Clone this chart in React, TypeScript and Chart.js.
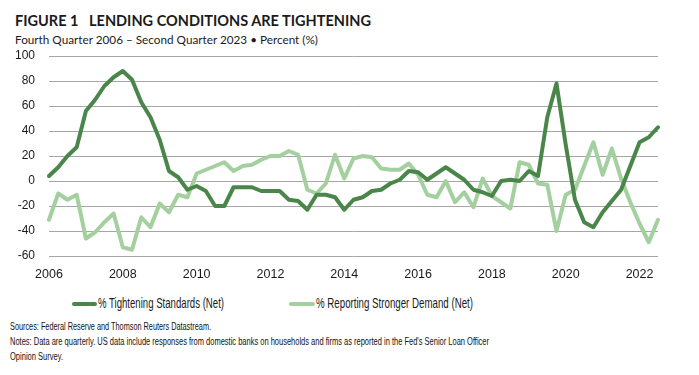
import React, { useEffect, useLayoutEffect, useRef } from "react";
import { Chart, registerables } from "chart.js";

Chart.register(...registerables);

// Quarterly categories: Q4 2006 .. Q2 2023
const quarterLabels: string[] = (() => {
  const out: string[] = [];
  let y = 2006;
  let q = 4;
  while (!(y === 2023 && q === 3)) {
    out.push(`${y} Q${q}`);
    q++;
    if (q > 4) {
      q = 1;
      y++;
    }
  }
  return out;
})();

const yearTickLabels = ["2006", "2008", "2010", "2012", "2014", "2016", "2018", "2020", "2022"];

const tighteningStandards = [
  4, 11, 20, 27, 56, 65, 76, 83, 88, 81, 63, 51, 33, 8, 3, -7, -4, -8, -20, -20,
  -5, -5, -5, -8, -8, -8, -15, -16, -23, -11, -11, -13, -23, -15, -13, -8, -7, -2, 1, 8,
  7, 1, 6, 11, 6, 1, -7, -9, -12, 0, 1, 0, 8, 4, 51, 78, 29, -15, -33, -37,
  -25, -16, -7, 12, 31, 35, 43,
];

const strongerDemand = [
  -31, -10, -15, -11, -46, -41, -33, -26, -53, -55, -29, -37, -18, -25, -11, -13, 6, 9, 12, 15,
  8, 12, 13, 17, 20, 20, 24, 21, -7, -10, -2, 21, 2, 18, 20, 19, 10, 9, 9, 14,
  5, -11, -13, 0, -17, -9, -21, 2, -12, -17, -22, 15, 13, -2, -3, -40, -11, -7, 12, 31,
  5, 26, 2, -17, -34, -49, -31,
];

const seriesNames = ["% Tightening Standards (Net)", "% Reporting Stronger Demand (Net)"];
const DARK = "#4a864a";
const LIGHT = "#a4d09f";

const titleText = "FIGURE 1   LENDING CONDITIONS ARE TIGHTENING";
const subtitleText = "Fourth Quarter 2006 \u2013 Second Quarter 2023 \u2022 Percent (%)";
const sourcesText = "Sources: Federal Reserve and Thomson Reuters Datastream.";
const notesText =
  "Notes: Data are quarterly. US data include responses from domestic banks on households and firms as reported in the Fed's Senior Loan Officer";
const notesText2 = "Opinion Survey.";

function FitText(props: {
  text: string;
  top: number;
  left: number;
  width: number;
  fontSize: number;
  family: string;
  color?: string;
  weight?: number;
}) {
  const ref = useRef<HTMLSpanElement | null>(null);
  useLayoutEffect(() => {
    const el = ref.current;
    if (!el) return;
    el.style.transform = "none";
    const w = el.getBoundingClientRect().width;
    if (w > 0) el.style.transform = `scaleX(${props.width / w})`;
  });
  return (
    <span
      ref={ref}
      style={{
        position: "absolute",
        top: props.top,
        left: props.left,
        whiteSpace: "pre",
        transformOrigin: "0 0",
        fontFamily: props.family,
        fontSize: props.fontSize,
        fontWeight: props.weight ?? 400,
        lineHeight: `${Math.round(props.fontSize * 1.3)}px`,
        color: props.color ?? "#1a1a1a",
      }}
    >
      {props.text}
    </span>
  );
}

export default function App() {
  const canvasRef = useRef<HTMLCanvasElement | null>(null);

  useEffect(() => {
    const canvas = canvasRef.current;
    if (!canvas) return;
    const chart = new Chart(canvas, {
      type: "line",
      data: {
        labels: quarterLabels,
        datasets: [
          {
            label: seriesNames[0],
            data: tighteningStandards,
            borderColor: DARK,
            backgroundColor: DARK,
            borderWidth: 4,
            pointRadius: 0,
            tension: 0,
            borderJoinStyle: "round",
            borderCapStyle: "round",
          },
          {
            label: seriesNames[1],
            data: strongerDemand,
            borderColor: LIGHT,
            backgroundColor: LIGHT,
            borderWidth: 4,
            pointRadius: 0,
            tension: 0,
            borderJoinStyle: "round",
            borderCapStyle: "round",
          },
        ],
      },
      options: {
        responsive: false,
        animation: false,
        events: [],
        layout: { padding: { left: 0, top: 56, right: 41, bottom: 0 } },
        plugins: {
          legend: { display: false },
          tooltip: { enabled: false },
          title: { display: false },
        },
        scales: {
          x: {
            type: "category",
            offset: false,
            grid: { display: false, drawTicks: false },
            border: { display: false },
            ticks: {
              autoSkip: false,
              maxRotation: 0,
              minRotation: 0,
              padding: 11,
              color: "#1a1a1a",
              font: { family: "'Liberation Sans', Arial, sans-serif", size: 12.5 },
              callback: (_v: any, i: number) => (i % 8 === 0 ? yearTickLabels[i / 8] : null),
            },
            afterFit: (scale: any) => {
              scale.height = 34;
            },
          },
          y: {
            min: -60,
            max: 100,
            grid: { color: "#a6a6a6", lineWidth: 1, drawTicks: false },
            border: { display: false },
            ticks: {
              stepSize: 20,
              padding: 14,
              color: "#1a1a1a",
              font: { family: "'Liberation Sans', Arial, sans-serif", size: 12 },
            },
            afterFit: (scale: any) => {
              scale.width = 49;
            },
          },
        },
      },
    } as any);
    return () => chart.destroy();
  }, []);

  const narrow = "'Liberation Sans', Arial, sans-serif";

  return (
    <div style={{ position: "absolute", left: 0, top: 0, width: 699, height: 375, background: "#fff", overflow: "hidden" }}>
      <FitText text={titleText} top={10} left={15} width={356} fontSize={15} family="Lato, 'Open Sans', sans-serif" weight={700} color="#1b1b1b" />
      <FitText text={subtitleText} top={32} left={15} width={303} fontSize={11.5} family="Lato, 'Open Sans', sans-serif" color="#1b1b1b" />
      <canvas ref={canvasRef} width={699} height={290} style={{ position: "absolute", left: 0, top: 0, width: 699, height: 290 }} />
      {/* legend */}
      <span style={{ position: "absolute", top: 302, left: 72, width: 25, height: 4, borderRadius: 2, background: DARK }} />
      <FitText text={seriesNames[0]} top={294} left={98} width={126} fontSize={14.5} family={narrow} />
      <span style={{ position: "absolute", top: 302, left: 289, width: 26, height: 4, borderRadius: 2, background: LIGHT }} />
      <FitText text={seriesNames[1]} top={294} left={316} width={157} fontSize={14.5} family={narrow} />
      {/* notes */}
      <FitText text={sourcesText} top={319} left={10} width={201} fontSize={11.2} family={narrow} color="#111" />
      <FitText text={notesText} top={334} left={10} width={479} fontSize={11.2} family={narrow} color="#111" />
      <FitText text={notesText2} top={349} left={10} width={53} fontSize={11.2} family={narrow} color="#111" />
    </div>
  );
}
